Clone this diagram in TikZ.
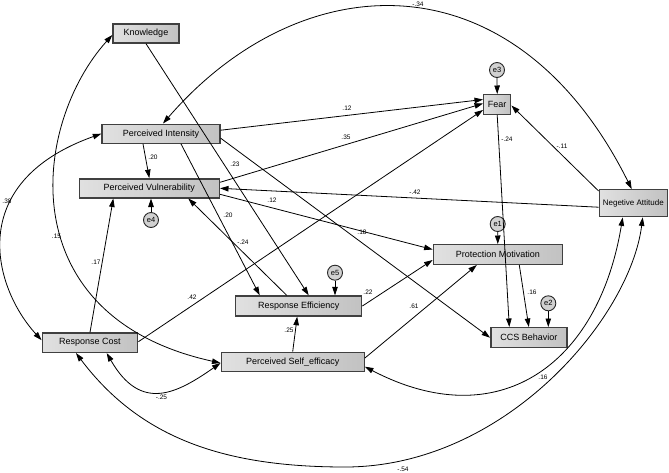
\documentclass[tikz,border=0pt]{standalone}
\usepackage{fontspec}
\setmainfont{Liberation Sans}
\usetikzlibrary{arrows.meta,shadings}
\begin{document}
\begin{tikzpicture}[x=1pt,y=-1pt,
  var/.style={draw=black!75, line width=1.4pt, left color=black!12, right color=black!24, inner sep=0pt, font=\fontsize{9}{10}\selectfont},
  err/.style={circle, draw=black!85, line width=0.9pt, fill=black!18, minimum size=15pt, inner sep=0pt, font=\fontsize{7.5}{8}\selectfont},
  arr/.style={line width=0.8pt, -{Triangle[length=8.5pt,width=5.5pt]}},
  covar/.style={line width=0.8pt, {Triangle[length=8.5pt,width=5.5pt]}-{Triangle[length=8.5pt,width=5.5pt]}},
  lbl/.style={font=\fontsize{6.5}{7}\selectfont, inner sep=0pt}
]
\useasboundingbox (0,0) rectangle (669,472);

% variables
\node[var, minimum width=66pt, minimum height=19pt] (know) at (146,33.5) {Knowledge};
\node[var, minimum width=118pt, minimum height=19pt] (pi) at (161,133.7) {Perceived Intensity};
\node[var, minimum width=140pt, minimum height=19pt] (pv) at (149.3,188.3) {Perceived Vulnerability};
\node[var, minimum width=27pt, minimum height=19.6pt] (fear) at (497.2,104.5) {Fear};
\node[var, minimum width=68pt, minimum height=27pt, font=\fontsize{8}{9}\selectfont] (na) at (633.3,203.2) {Negetive Attitude};
\node[var, minimum width=129pt, minimum height=19.6pt] (pm) at (497.8,254.5) {Protection Motivation};
\node[var, minimum width=76pt, minimum height=20pt] (ccs) at (528.8,337.7) {CCS Behavior};
\node[var, minimum width=126pt, minimum height=20pt] (re) at (298.7,306) {Response Efficiency};
\node[var, minimum width=143pt, minimum height=19.4pt] (pse) at (292.7,362) {Perceived Self\_efficacy};
\node[var, minimum width=95.4pt, minimum height=19.3pt] (rc) at (90,342.7) {Response Cost};

% error terms
\node[err] (e1) at (497.7,224) {e1};
\node[err] (e2) at (548.3,303.3) {e2};
\node[err] (e3) at (497,70) {e3};
\node[err] (e4) at (151,220) {e4};
\node[err] (e5) at (335,272.7) {e5};

% regression paths
\draw[arr] (know.south) -- ([xshift=10pt]re.north);
\draw[arr] ([xshift=20pt]pi.south) -- ([xshift=-39pt]re.north);
\draw[arr] ([xshift=-18pt]pi.south) -- (pv.north);
\draw[arr] ([yshift=3.5pt]pi.east) -- ([yshift=5pt]fear.west);
\draw[arr] ([yshift=6pt]pv.east) -- ([yshift=1pt]fear.west);
\draw[arr] ([yshift=1pt]rc.east) -- ([yshift=-5.5pt]fear.west);
\draw[arr] ([yshift=-4.5pt]pi.east) -- (ccs.west);
\draw[arr] ([yshift=-6pt]pv.east) -- ([yshift=5pt]pm.west);
\draw[arr] ([xshift=-12pt]re.north) -- ([xshift=39pt]pv.south);
\draw[arr] (rc.north) -- ([xshift=-36pt]pv.south);
\draw[arr] ([yshift=-4pt]na.west) -- (pv.east);
\draw[arr] ([yshift=-2pt]na.north west) -- ([yshift=-1pt]fear.east);
\draw[arr] (fear.south) -- ([xshift=-19.5pt]ccs.north);
\draw[arr] ([xshift=21.5pt]pm.south) -- (ccs.north);
\draw[arr] (re.east) -- ([yshift=-5.5pt]pm.west);
\draw[arr] ([yshift=4pt]pse.east) -- ([xshift=-21pt]pm.south);
\draw[arr] (pse.north) -- ([xshift=-1.5pt]re.south);

% error arrows
\draw[arr] (e3.south) -- (fear.north);
\draw[arr] (e1.south) -- (pm.north);
\draw[arr] (e2.south) -- ([xshift=19.5pt]ccs.north);
\draw[arr] (e4.north) -- ([xshift=1.7pt]pv.south);
\draw[arr] (e5.south) -- ([xshift=36.3pt]re.north);

% covariances
\draw[covar] ([xshift=-1.6pt]na.north) .. controls (514,-47) and (301,-36) .. ([xshift=2pt]pi.north);
\draw[covar] (pi.west) .. controls (-36.5,182.8) and (-6.2,288.2) .. ([yshift=2.5pt]rc.west);
\draw[covar] ([yshift=-1.5pt]know.west) .. controls (32,124) and (9,316.6) .. ([yshift=-1pt]pse.west);
\draw[covar] ([xshift=16.7pt]rc.south) .. controls (141,412.8) and (177,393.4) .. ([yshift=-1pt]pse.west);
\draw[covar] ([yshift=-4.7pt]pse.east) .. controls (497,435.8) and (598,366.8) .. ([xshift=-10.6pt]na.south);
\draw[covar] ([xshift=-14pt]rc.south) .. controls (140.8,439) and (225.5,467) .. (345,467) .. controls (505,467) and (630,318) .. ([xshift=9.4pt]na.south);

% labels
\node[lbl] (l1) at (235,164) {.23};
\node[lbl] (l2) at (153,157) {.20};
\node[lbl] (l3) at (228,215) {.20};
\node[lbl] (l4) at (347,108) {.12};
\node[lbl] (l5) at (346,137.5) {.35};
\node[lbl] (l6) at (192,297.5) {.42};
\node[lbl] (l7) at (272,200) {.12};
\node[lbl] (l8) at (362,232) {.18};
\node[lbl] (l9) at (243,242) {-.24};
\node[lbl] (l10) at (96,262) {.17};
\node[lbl] (l11) at (415,192) {-.42};
\node[lbl] (l12) at (562,146) {-.11};
\node[lbl] (l13) at (507,139) {-.24};
\node[lbl] (l14) at (532,292) {.16};
\node[lbl] (l15) at (368,292) {.22};
\node[lbl] (l16) at (414,306.5) {.61};
\node[lbl] (l17) at (289,330) {.25};
\node[lbl] (l18) at (418,4) {-.34};
\node[lbl] (l19) at (7,201) {.38};
\node[lbl] (l20) at (56.5,236.5) {.15};
\node[lbl] (l21) at (161.5,397) {-.25};
\node[lbl] (l22) at (543,377.5) {.16};
\node[lbl] (l23) at (403,469.5) {-.54};
\end{tikzpicture}
\end{document}
